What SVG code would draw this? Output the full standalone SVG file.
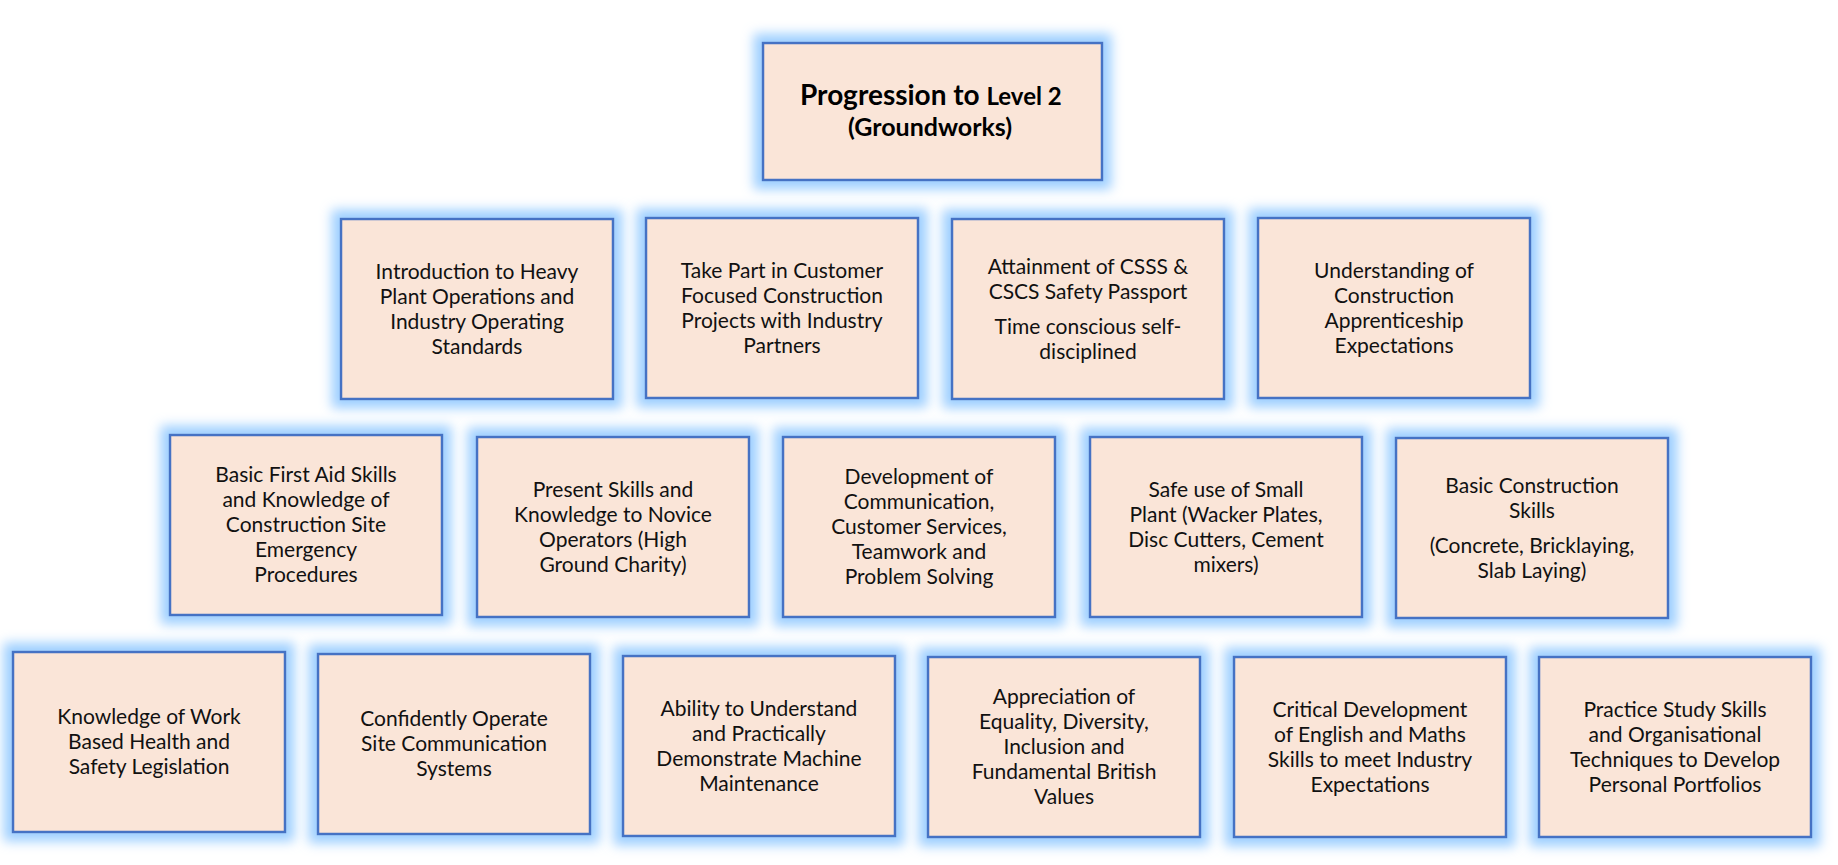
<svg xmlns="http://www.w3.org/2000/svg" width="1838" height="865" viewBox="0 0 1838 865">
<defs>
<filter id="glow" x="-25%" y="-30%" width="150%" height="160%">
<feMorphology in="SourceAlpha" operator="dilate" radius="8" result="d"/>
<feGaussianBlur in="d" stdDeviation="6" result="b"/>
<feFlood flood-color="#9dcfff" flood-opacity="1"/>
<feComposite in2="b" operator="in" result="g"/>
<feMerge><feMergeNode in="g"/><feMergeNode in="SourceGraphic"/></feMerge>
</filter>
</defs>
<style>
.box{fill:#FAE5D8;stroke:#4472C4;stroke-width:2.5;filter:url(#glow)}
.t{font-family:Lato,"Liberation Sans",sans-serif;font-size:21px;fill:#111;text-anchor:middle}
.h{font-family:Lato,"Liberation Sans",sans-serif;font-weight:bold;fill:#000}
</style>
<rect width="1838" height="865" fill="#fff"/>
<g id="connectors"/>
<g id="title">
<rect class="box" x="763" y="43" width="339" height="137"/>
<text class="h" x="800" y="105"><tspan font-size="28">Progression to </tspan><tspan font-size="24">Level 2</tspan></text>
<text class="h" x="930" y="136" font-size="25" text-anchor="middle">(Groundworks)</text>
</g>
<g id="n1">
<rect class="box" x="341" y="219" width="272" height="180"/>
<text class="t"><tspan x="477" y="278.5">Introduction to Heavy</tspan><tspan x="477" y="303.5">Plant Operations and</tspan><tspan x="477" y="328.5">Industry Operating</tspan><tspan x="477" y="353.5">Standards</tspan></text>
</g>
<g id="n2">
<rect class="box" x="646" y="218" width="272" height="180"/>
<text class="t"><tspan x="782" y="277.5">Take Part in Customer</tspan><tspan x="782" y="302.5">Focused Construction</tspan><tspan x="782" y="327.5">Projects with Industry</tspan><tspan x="782" y="352.5">Partners</tspan></text>
</g>
<g id="n3">
<rect class="box" x="952" y="219" width="272" height="180"/>
<text class="t"><tspan x="1088" y="273.5">Attainment of CSSS &amp;</tspan><tspan x="1088" y="298.5">CSCS Safety Passport</tspan><tspan x="1088" y="333.5">Time conscious self-</tspan><tspan x="1088" y="358.5">disciplined</tspan></text>
</g>
<g id="n4">
<rect class="box" x="1258" y="218" width="272" height="180"/>
<text class="t"><tspan x="1394" y="277.5">Understanding of</tspan><tspan x="1394" y="302.5">Construction</tspan><tspan x="1394" y="327.5">Apprenticeship</tspan><tspan x="1394" y="352.5">Expectations</tspan></text>
</g>
<g id="n5">
<rect class="box" x="170" y="435" width="272" height="180"/>
<text class="t"><tspan x="306" y="482">Basic First Aid Skills</tspan><tspan x="306" y="507">and Knowledge of</tspan><tspan x="306" y="532">Construction Site</tspan><tspan x="306" y="557">Emergency</tspan><tspan x="306" y="582">Procedures</tspan></text>
</g>
<g id="n6">
<rect class="box" x="477" y="437" width="272" height="180"/>
<text class="t"><tspan x="613" y="496.5">Present Skills and</tspan><tspan x="613" y="521.5">Knowledge to Novice</tspan><tspan x="613" y="546.5">Operators (High</tspan><tspan x="613" y="571.5">Ground Charity)</tspan></text>
</g>
<g id="n7">
<rect class="box" x="783" y="437" width="272" height="180"/>
<text class="t"><tspan x="919" y="484">Development of</tspan><tspan x="919" y="509">Communication,</tspan><tspan x="919" y="534">Customer Services,</tspan><tspan x="919" y="559">Teamwork and</tspan><tspan x="919" y="584">Problem Solving</tspan></text>
</g>
<g id="n8">
<rect class="box" x="1090" y="437" width="272" height="180"/>
<text class="t"><tspan x="1226" y="496.5">Safe use of Small</tspan><tspan x="1226" y="521.5">Plant (Wacker Plates,</tspan><tspan x="1226" y="546.5">Disc Cutters, Cement</tspan><tspan x="1226" y="571.5">mixers)</tspan></text>
</g>
<g id="n9">
<rect class="box" x="1396" y="438" width="272" height="180"/>
<text class="t"><tspan x="1532" y="492.5">Basic Construction</tspan><tspan x="1532" y="517.5">Skills</tspan><tspan x="1532" y="552.5">(Concrete, Bricklaying,</tspan><tspan x="1532" y="577.5">Slab Laying)</tspan></text>
</g>
<g id="n10">
<rect class="box" x="13" y="652" width="272" height="180"/>
<text class="t"><tspan x="149" y="724">Knowledge of Work</tspan><tspan x="149" y="749">Based Health and</tspan><tspan x="149" y="774">Safety Legislation</tspan></text>
</g>
<g id="n11">
<rect class="box" x="318" y="654" width="272" height="180"/>
<text class="t"><tspan x="454" y="726">Confidently Operate</tspan><tspan x="454" y="751">Site Communication</tspan><tspan x="454" y="776">Systems</tspan></text>
</g>
<g id="n12">
<rect class="box" x="623" y="656" width="272" height="180"/>
<text class="t"><tspan x="759" y="715.5">Ability to Understand</tspan><tspan x="759" y="740.5">and Practically</tspan><tspan x="759" y="765.5">Demonstrate Machine</tspan><tspan x="759" y="790.5">Maintenance</tspan></text>
</g>
<g id="n13">
<rect class="box" x="928" y="657" width="272" height="180"/>
<text class="t"><tspan x="1064" y="704">Appreciation of</tspan><tspan x="1064" y="729">Equality, Diversity,</tspan><tspan x="1064" y="754">Inclusion and</tspan><tspan x="1064" y="779">Fundamental British</tspan><tspan x="1064" y="804">Values</tspan></text>
</g>
<g id="n14">
<rect class="box" x="1234" y="657" width="272" height="180"/>
<text class="t"><tspan x="1370" y="716.5">Critical Development</tspan><tspan x="1370" y="741.5">of English and Maths</tspan><tspan x="1370" y="766.5">Skills to meet Industry</tspan><tspan x="1370" y="791.5">Expectations</tspan></text>
</g>
<g id="n15">
<rect class="box" x="1539" y="657" width="272" height="180"/>
<text class="t"><tspan x="1675" y="716.5">Practice Study Skills</tspan><tspan x="1675" y="741.5">and Organisational</tspan><tspan x="1675" y="766.5">Techniques to Develop</tspan><tspan x="1675" y="791.5">Personal Portfolios</tspan></text>
</g>
</svg>
